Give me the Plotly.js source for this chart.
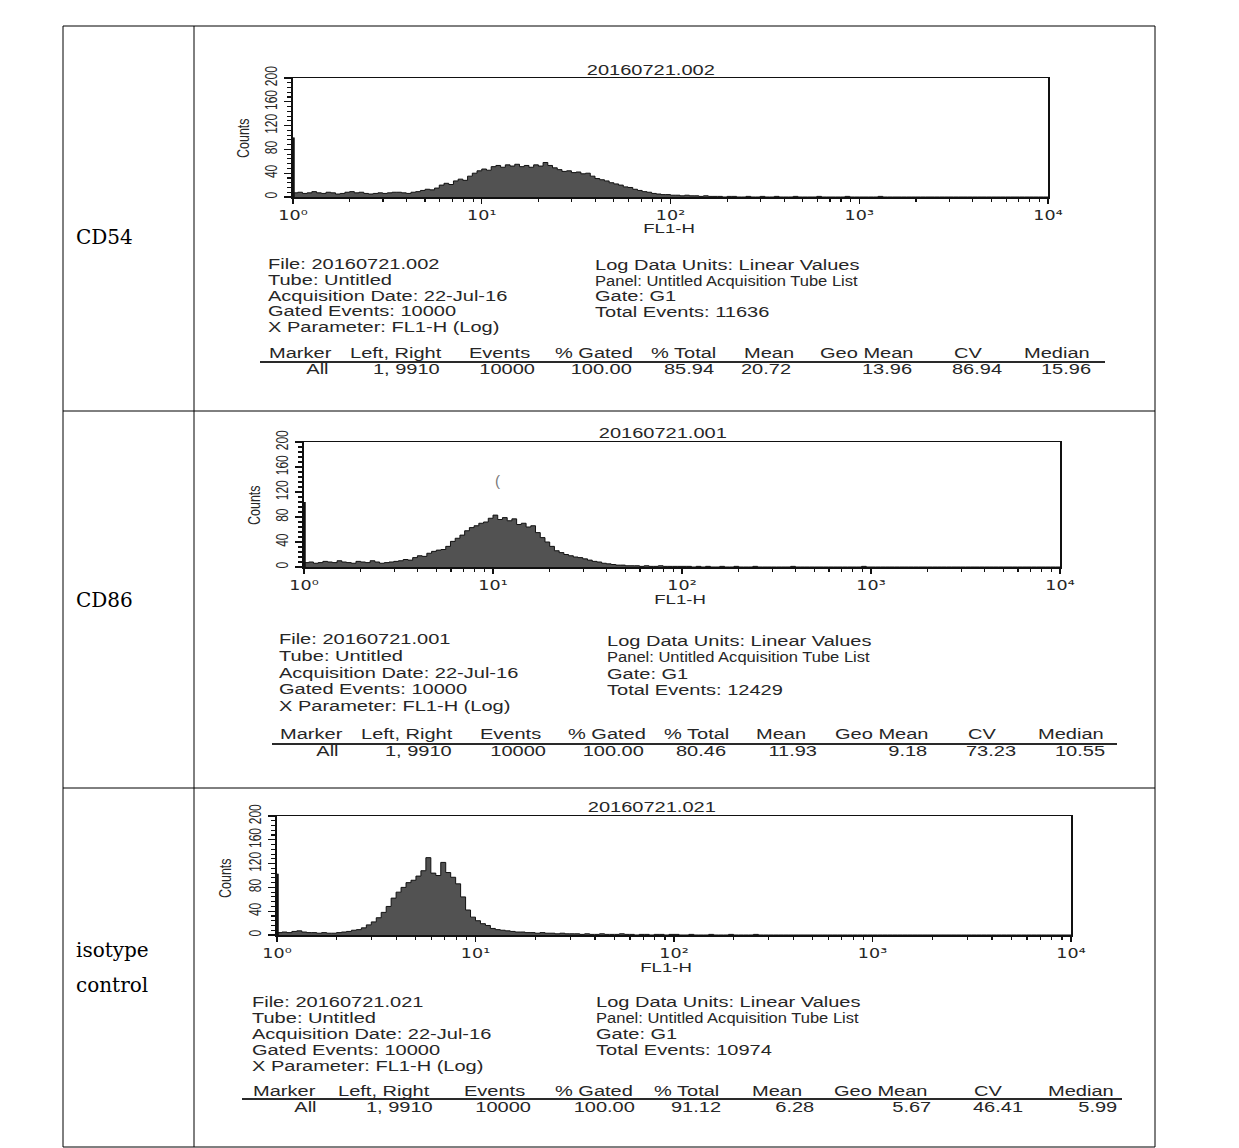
<!DOCTYPE html>
<html>
<head>
<meta charset="utf-8">
<script src="https://cdn.plot.ly/plotly-3.0.1.min.js"></script>
<style>html,body{margin:0;padding:0;background:#fff;}</style>
</head>
<body>
<div id="chart" style="width:1239px;height:1148px;"></div>
<script>
// ---------------- DATA ----------------
const rowLabels = [["CD54"], ["CD86"], ["isotype", "control"]];
const fileNames = ["20160721.002", "20160721.001", "20160721.021"];

// histogram counts, one value per channel (channel width = 1/40 decade, from 10^0 to 10^4)
const channelStep = 0.025;
const cd54Counts = [100,
 7,8,6,7,9,7,6,8,7,5,6,8,9,7,8,6,5,6,7,6,7,8,8,7,6,8,9,
 11,13,12,15,20,23,21,27,30,28,35,40,44,
 47,45,51,53,50,54,52,55,51,53,50,54,52,58,53,49,46,43,44,41,
 42,39,40,35,31,29,27,24,22,20,17,16,13,11,9,8,6,5,4,4,
 3,3,2,3,2,2,1,2,1,1,
 1,0,1,1,0,0,1,0,0,1,
 0,0,1,0,0,0,1,0,0,0,
 0,1,0,0,0,0,0,1,0,0,
 0,0,0,0,1,0,0,0,0,0,
 0,0,0,0,0,0,0,0,0,0,
 0,0,0,0,0,0,0,0,0,0,
 0,0,0,0,0,0,0,0,0,0];
const cd86Counts = [104,
 7,8,6,7,9,8,7,10,8,7,6,9,8,7,10,8,6,7,8,9,
 10,12,11,15,18,17,22,25,27,28,33,41,46,51,58,63,66,70,72,78,
 83,76,79,74,77,68,70,64,66,55,47,40,33,26,23,20,18,16,15,13,
 11,9,8,6,5,4,3,3,2,2,2,1,2,1,1,2,1,1,1,1,
 1,1,0,1,0,1,0,0,1,0,
 0,1,0,0,0,1,0,0,0,0,
 0,0,0,1,0,0,0,0,0,0,
 0,0,0,0,0,0,0,0,1,0,
 0,0,0,0,0,0,0,0,0,0,
 0,0,0,0,0,0,0,0,0,0,
 0,0,0,0,0,0,0,0,0,0,
 0,0,0,0,0,0,0,0,0,0];
const isoCounts = [103,
 4,5,4,6,7,5,4,4,3,4,3,
 3,4,5,6,8,9,12,17,22,29,38,48,62,72,80,88,92,99,108,
 130,104,100,122,105,97,86,64,42,30,
 24,19,16,11,9,8,7,6,5,5,4,4,3,4,3,3,2,3,2,2,
 2,1,2,1,1,2,1,1,1,2,1,1,0,1,1,0,1,1,0,1,
 1,0,0,1,0,0,0,1,0,0,0,1,0,0,0,0,1,0,0,0,
 0,0,0,0,0,0,0,0,0,0,
 0,0,0,0,0,0,0,0,0,0,
 0,0,0,0,0,0,0,0,0,0,
 0,0,0,0,0,0,0,0,0,0,
 0,0,0,0,0,0,0,0,0,0,
 0,0,0,0,0,0,0,0,0,0];

const xTickVals = [0, 1, 2, 3, 4];
const xTickText = ["10\u2070", "10\u00b9", "10\u00b2", "10\u00b3", "10\u2074"];
const yTickVals = [0, 40, 80, 120, 160, 200];
const xTitle = "FL1-H";
const yTitle = "Counts";

const infoLeft = [
 ["File: 20160721.002", "Tube: Untitled", "Acquisition Date: 22-Jul-16", "Gated Events: 10000", "X Parameter: FL1-H (Log)"],
 ["File: 20160721.001", "Tube: Untitled", "Acquisition Date: 22-Jul-16", "Gated Events: 10000", "X Parameter: FL1-H (Log)"],
 ["File: 20160721.021", "Tube: Untitled", "Acquisition Date: 22-Jul-16", "Gated Events: 10000", "X Parameter: FL1-H (Log)"]
];
const infoRight = [
 ["Log Data Units: Linear Values", "Panel: Untitled Acquisition Tube List", "Gate: G1", "Total Events: 11636"],
 ["Log Data Units: Linear Values", "Panel: Untitled Acquisition Tube List", "Gate: G1", "Total Events: 12429"],
 ["Log Data Units: Linear Values", "Panel: Untitled Acquisition Tube List", "Gate: G1", "Total Events: 10974"]
];
const statHeaders = ["Marker", "Left, Right", "Events", "% Gated", "% Total", "Mean", "Geo Mean", "CV", "Median"];
const statsCD54 = ["All", "1, 9910", "10000", "100.00", "85.94", "20.72", "13.96", "86.94", "15.96"];
const statsCD86 = ["All", "1, 9910", "10000", "100.00", "80.46", "11.93", "9.18", "73.23", "10.55"];
const statsIso  = ["All", "1, 9910", "10000", "100.00", "91.12", "6.28", "5.67", "46.41", "5.99"];

const allCounts = [cd54Counts, cd86Counts, isoCounts];
const allStats = [statsCD54, statsCD86, statsIso];

// ---------------- LAYOUT (pixel positions) ----------------
const W = 1239, H = 1148;
const panels = [
 {plot:{l:293, r:1048, t:78, b:197}, title:{x:651, y:70}, counts:{x:244, y:138}, fl:{x:669, y:228},
  label:{x:74, y:[237]}, infoL:{x:266, y:[264,280,296,311,327]}, infoR:{x:593, y:[265,281,296,312]},
  headY:353, dataY:369, rule:{x0:260, x1:1105, y:362},
  headX:[267,348,467,553,649,742,818,952,1022], dataX:[331,442,537,634,716,793,914,1004,1093]},
 {plot:{l:304, r:1060, t:442, b:567}, title:{x:663, y:433}, counts:{x:255, y:505}, fl:{x:680, y:599},
  label:{x:74, y:[600]}, infoL:{x:277, y:[639,656,673,689,706]}, infoR:{x:605, y:[641,657,674,690]},
  headY:734, dataY:751, rule:{x0:272, x1:1117, y:744},
  headX:[278,359,478,566,662,754,833,966,1036], dataX:[341,454,548,646,728,819,929,1018,1107]},
 {plot:{l:277, r:1071, t:816, b:935}, title:{x:652, y:807}, counts:{x:226, y:878}, fl:{x:666, y:967},
  label:{x:74, y:[950,985]}, infoL:{x:250, y:[1002,1018,1034,1050,1066]}, infoR:{x:594, y:[1002,1018,1034,1050]},
  headY:1091, dataY:1107, rule:{x0:242, x1:1122, y:1099},
  headX:[251,336,462,553,652,750,832,972,1046], dataX:[319,435,533,637,723,816,933,1025,1119]}
];
const tableBox = {l:63, r:1155, t:26, b:1147, colX:194, rowY:[411, 788]};

const px = x => x / W;
const py = y => 1 - y / H;
const sansFam = '"Liberation Sans", Arial, Helvetica, sans-serif';
const tickFam = '"DejaVu Sans", "Liberation Sans", sans-serif';
const textCol = '#262626';
const STRETCH = 1.43;

const minorX = [];
for (let k = 0; k < 4; k++) for (let m = 2; m <= 9; m++) minorX.push(k + Math.log10(m));

const data = [];
const layout = {
 width: W, height: H, margin: {l:0, r:0, t:0, b:0},
 paper_bgcolor: '#ffffff', plot_bgcolor: '#ffffff',
 showlegend: false, hovermode: false,
 font: {family: sansFam, color: textCol},
 annotations: [], shapes: []
};
const stretch = [];   // >0: widen glyphs horizontally; <0: widen glyph height (rotated text)

function addAnn(text, x, y, opt, s) {
 layout.annotations.push(Object.assign({
  xref:'paper', yref:'paper', x: px(x), y: py(y), text: text, showarrow: false,
  xanchor:'left', yanchor:'middle', align:'left',
  font: {family: sansFam, size: 14, color: textCol}
 }, opt || {}));
 stretch.push(s || 0);
}

panels.forEach((p, i) => {
 const sfx = i === 0 ? '' : String(i + 1);
 const counts = allCounts[i];
 data.push({
  type: 'scatter', mode: 'lines', x0: 0, dx: channelStep, y: counts,
  xaxis: 'x' + sfx, yaxis: 'y' + sfx,
  line: {shape: 'vh', color: '#111111', width: 1},
  fill: 'tozeroy', fillcolor: '#525252', hoverinfo: 'skip'
 });
 layout['xaxis' + sfx] = {
  domain: [px(p.plot.l), px(p.plot.r)], anchor: 'y' + sfx, range: [0, 4],
  tickmode: 'array', tickvals: xTickVals, ticktext: xTickText,
  ticks: 'outside', ticklen: 5, tickwidth: 1.3, tickcolor: '#111',
  showline: true, linecolor: '#111', linewidth: 1.5, mirror: true,
  showgrid: false, zeroline: false, fixedrange: true,
  tickfont: {family: tickFam, size: 14, color: textCol},
  minor: {tickmode: 'array', tickvals: minorX, ticks: 'outside', ticklen: 3, tickwidth: 1.2, tickcolor: '#111', showgrid: false}
 };
 layout['yaxis' + sfx] = {
  domain: [py(p.plot.b), py(p.plot.t)], anchor: 'x' + sfx, range: [0, 200],
  tickmode: 'array', tickvals: yTickVals, tickangle: -90,
  ticks: 'outside', ticklen: 7, tickwidth: 1.3, tickcolor: '#111',
  showline: true, linecolor: '#111', linewidth: 1.8, mirror: true,
  showgrid: false, zeroline: false, fixedrange: true, ticklabelstandoff: 4,
  tickfont: {family: sansFam, size: 12, color: textCol},
  minor: {dtick: 8, tick0: 0, ticks: 'outside', ticklen: 4, tickwidth: 1.1, tickcolor: '#111', showgrid: false}
 };
 // first-channel pile-up drawn on the data scale
 layout.shapes.push({type:'line', xref:'x' + sfx, yref:'y' + sfx, x0:0, x1:0, y0:0, y1:counts[0],
  line:{color:'#111', width:3.5}});

 addAnn(fileNames[i], p.title.x, p.title.y, {xanchor:'center', align:'center'}, STRETCH);
 addAnn(yTitle, p.counts.x, p.counts.y, {xanchor:'center', align:'center', textangle:-90,
  font:{family: sansFam, size: 12.5, color: textCol}}, -1.35);
 addAnn(xTitle, p.fl.x, p.fl.y, {xanchor:'center', align:'center', font:{family: sansFam, size: 13, color: textCol}}, STRETCH);
 infoLeft[i].forEach((t, k) => addAnn(t, p.infoL.x, p.infoL.y[k], {}, STRETCH));
 infoRight[i].forEach((t, k) => addAnn(t, p.infoR.x, p.infoR.y[k], {}, k === 1 ? 1.18 : STRETCH));
 statHeaders.forEach((t, k) => addAnn(t, p.headX[k], p.headY, {}, STRETCH));
 allStats[i].forEach((t, k) => addAnn(t, p.dataX[k], p.dataY, {xanchor:'right', align:'right'}, STRETCH));
 rowLabels[i].forEach((t, k) => addAnn(t, p.label.x, p.label.y[k], {
  font:{family:'"DejaVu Serif", "Liberation Serif", serif', size:20, color:'#000'}}, 0));
 layout.shapes.push({type:'line', xref:'paper', yref:'paper',
  x0:px(p.rule.x0), x1:px(p.rule.x1), y0:py(p.rule.y), y1:py(p.rule.y), line:{color:'#2a2a2a', width:2}});
});

// small scan mark in the CD86 panel
addAnn('(', 497, 480, {xanchor:'center', align:'center', font:{family: sansFam, size: 15, color:'#777'}}, 0);

// table grid
const tb = tableBox;
const L = (x0, y0, x1, y1) => layout.shapes.push({type:'line', xref:'paper', yref:'paper',
 x0:px(x0), y0:py(y0), x1:px(x1), y1:py(y1), line:{color:'#000', width:1}});
L(tb.l, tb.t, tb.r, tb.t); L(tb.l, tb.b, tb.r, tb.b);
L(tb.l, tb.t, tb.l, tb.b); L(tb.r, tb.t, tb.r, tb.b);
L(tb.colX, tb.t, tb.colX, tb.b);
tb.rowY.forEach(y => L(tb.l, y, tb.r, y));

function widen(t, s) {
 const len = t.getComputedTextLength();
 t.setAttribute('textLength', (len * s).toFixed(1));
 t.setAttribute('lengthAdjust', 'spacingAndGlyphs');
}
function thicken(t, s) {
 const bb = t.getBBox();
 const cy = bb.y + bb.height / 2;
 const old = t.getAttribute('transform') || '';
 t.setAttribute('transform', (old + ' translate(0 ' + cy + ') scale(1 ' + s + ') translate(0 ' + (-cy) + ')').trim());
}

Plotly.newPlot('chart', data, layout, {staticPlot: true, displayModeBar: false}).then(gd => {
 // the printout is horizontally stretched: widen the text glyphs accordingly
 gd.querySelectorAll('g.annotation').forEach(g => {
  const idx = +g.getAttribute('data-index');
  const s = stretch[idx];
  if (!s) return;
  const t = g.querySelector('text.annotation-text');
  if (!t) return;
  if (s > 0) widen(t, s); else thicken(t, -s);
 });
 gd.querySelectorAll('.xtick text, .x2tick text, .x3tick text').forEach(t => widen(t, 1.25));
 gd.querySelectorAll('.ytick text, .y2tick text, .y3tick text').forEach(t => thicken(t, 1.4));
});
</script>
</body>
</html>
